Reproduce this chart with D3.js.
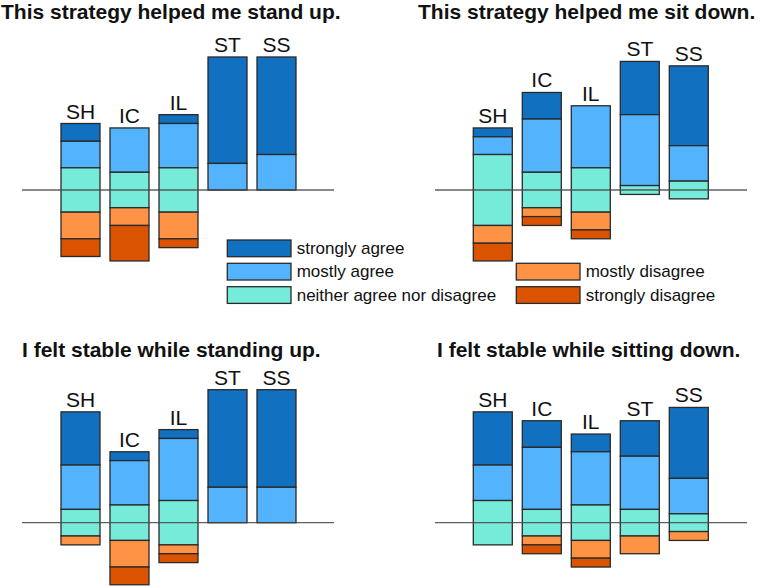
<!DOCTYPE html>
<html>
<head>
<meta charset="utf-8">
<script src="https://cdn.jsdelivr.net/npm/d3@7"></script>
<style>
  body { margin: 0; background: #fff; }
  svg text { font-family: "Liberation Sans", Arial, sans-serif; fill: #111; }
</style>
</head>
<body>
<div id="chart-area"></div>
<script>
// categories and counts (15 respondents per bar)
const categories = ["SH", "IC", "IL", "ST", "SS"]
const levels = ["strongly agree", "mostly agree", "neither agree nor disagree", "mostly disagree", "strongly disagree"]
const colors = ["#1170bf", "#53b4fd", "#77ebd9", "#fe9346", "#d95300"]
const titles = [
  "This strategy helped me stand up.",
  "This strategy helped me sit down.",
  "I felt stable while standing up.",
  "I felt stable while sitting down."
]

// stand up - helped
const standHelpSA = [2, 0, 1, 12, 11]
const standHelpMA = [3, 5, 5, 3, 4]
const standHelpN  = [5, 4, 5, 0, 0]
const standHelpMD = [3, 2, 3, 0, 0]
const standHelpSD = [2, 4, 1, 0, 0]

// sit down - helped
const sitHelpSA = [1, 3, 0, 6, 9]
const sitHelpMA = [2, 6, 7, 8, 4]
const sitHelpN  = [8, 4, 5, 1, 2]
const sitHelpMD = [2, 1, 2, 0, 0]
const sitHelpSD = [2, 1, 1, 0, 0]

// stable standing
const standStableSA = [6, 1, 1, 11, 11]
const standStableMA = [5, 5, 7, 4, 4]
const standStableN  = [3, 4, 5, 0, 0]
const standStableMD = [1, 3, 1, 0, 0]
const standStableSD = [0, 2, 1, 0, 0]

// stable sitting
const sitStableSA = [6, 3, 2, 4, 8]
const sitStableMA = [4, 7, 6, 6, 4]
const sitStableN  = [5, 3, 4, 3, 2]
const sitStableMD = [0, 1, 2, 2, 1]
const sitStableSD = [0, 1, 1, 0, 0]

const TOTAL = 15
const BAR_SPAN = 133   // px for 15 answers

const panels = [
  { title: titles[0], tx: 1, ty: 19, x0: 61, zero: 190, lineX: [22, 334],
    series: [standHelpSA, standHelpMA, standHelpN, standHelpMD, standHelpSD] },
  { title: titles[1], tx: 418, ty: 19, x0: 473.3, zero: 190, lineX: [435, 747],
    series: [sitHelpSA, sitHelpMA, sitHelpN, sitHelpMD, sitHelpSD] },
  { title: titles[2], tx: 22, ty: 357, x0: 61, zero: 522.7, lineX: [22, 334],
    series: [standStableSA, standStableMA, standStableN, standStableMD, standStableSD] },
  { title: titles[3], tx: 437, ty: 357, x0: 473.3, zero: 522.7, lineX: [435, 747],
    series: [sitStableSA, sitStableMA, sitStableN, sitStableMD, sitStableSD] }
]

const svg = d3.select("#chart-area").append("svg")
  .attr("width", 767)
  .attr("height", 586)

panels.forEach(p => {
  const g = svg.append("g")

  const x = d3.scaleBand()
    .domain(categories)
    .range([p.x0, p.x0 + 49 * 5 - 10])
    .paddingInner(10 / 49)
    .paddingOuter(0)

  const y = d3.scaleLinear()
    .domain([0, TOTAL])
    .range([p.zero, p.zero - BAR_SPAN])

  // build segments, neutral centred on zero line
  const segs = []
  const tops = []
  categories.forEach((c, i) => {
    const sa = p.series[0][i], ma = p.series[1][i], n = p.series[2][i]
    const md = p.series[3][i], sd = p.series[4][i]
    const nLo = -n / 2, nHi = n / 2
    const pieces = [
      [nHi + ma, nHi + ma + sa, 0],
      [nHi, nHi + ma, 1],
      [nLo, nHi, 2],
      [nLo - md, nLo, 3],
      [nLo - md - sd, nLo - md, 4]
    ]
    pieces.forEach(pc => {
      if (pc[1] - pc[0] > 0) segs.push({ cat: c, lo: pc[0], hi: pc[1], k: pc[2] })
    })
    tops.push({ cat: c, top: nHi + ma + sa })
  })

  g.selectAll("rect.seg")
    .data(segs)
    .enter().append("rect")
    .attr("class", "seg")
    .attr("x", d => x(d.cat))
    .attr("y", d => y(d.hi))
    .attr("width", x.bandwidth())
    .attr("height", d => y(d.lo) - y(d.hi))
    .attr("fill", d => colors[d.k])
    .attr("stroke", "#2a2a2a")
    .attr("stroke-width", 1.3)

  // the zero line shows through the bars in the reference
  g.append("line")
    .attr("x1", p.lineX[0])
    .attr("x2", p.lineX[1])
    .attr("y1", y(0))
    .attr("y2", y(0))
    .attr("stroke", "#444")
    .attr("stroke-opacity", 0.85)
    .attr("stroke-width", 1.3)

  g.selectAll("text.cat")
    .data(tops)
    .enter().append("text")
    .attr("class", "cat")
    .attr("x", d => x(d.cat) + x.bandwidth() / 2)
    .attr("y", d => y(d.top) - 5)
    .attr("text-anchor", "middle")
    .attr("font-size", "21px")
    .text(d => d.cat)

  g.append("text")
    .attr("x", p.tx)
    .attr("y", p.ty)
    .attr("font-size", "21px")
    .attr("font-weight", "bold")
    .text(p.title)
})

// legend
const legendPos = [
  { k: 0, x: 227.3, y: 240 },
  { k: 1, x: 227.3, y: 263.3 },
  { k: 2, x: 227.3, y: 286.7 },
  { k: 3, x: 516.3, y: 263.3 },
  { k: 4, x: 516.3, y: 286.7 }
]
const legend = svg.append("g")
legend.selectAll("rect")
  .data(legendPos)
  .enter().append("rect")
  .attr("x", d => d.x)
  .attr("y", d => d.y)
  .attr("width", 63.7)
  .attr("height", 16.7)
  .attr("fill", d => colors[d.k])
  .attr("stroke", "#2a2a2a")
  .attr("stroke-width", 1.3)
legend.selectAll("text")
  .data(legendPos)
  .enter().append("text")
  .attr("x", d => d.x + 69.4)
  .attr("y", d => d.y + 14)
  .attr("font-size", "17px")
  .text(d => levels[d.k])
</script>
</body>
</html>
